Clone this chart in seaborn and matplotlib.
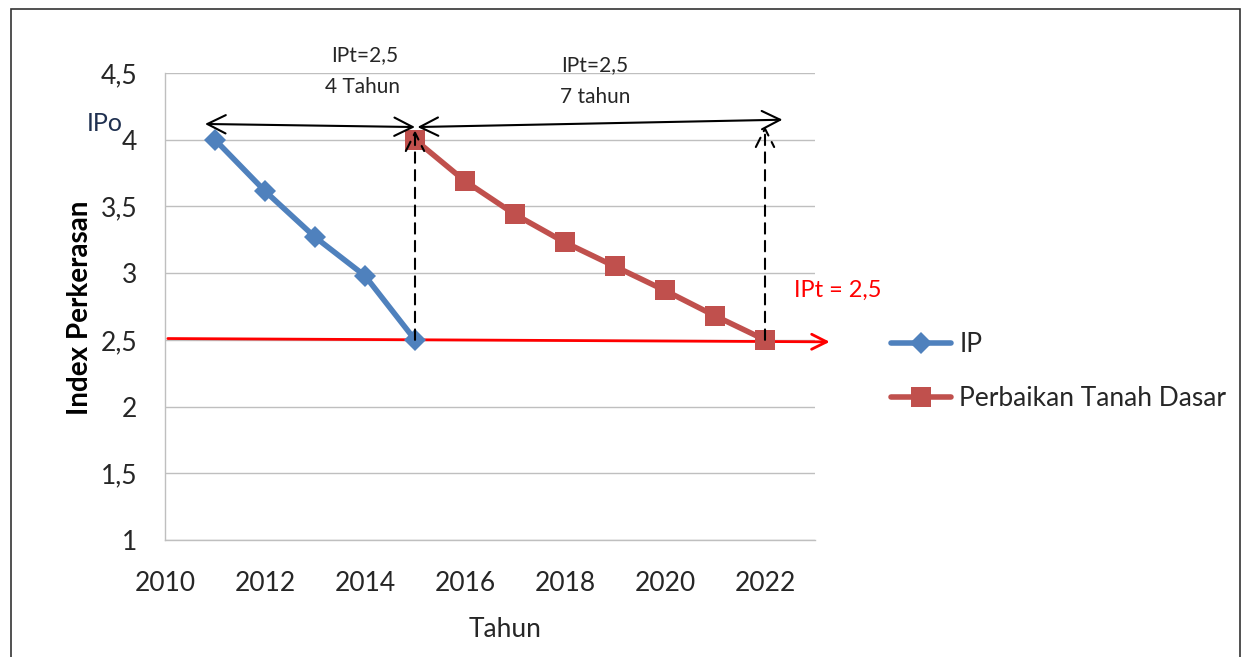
import matplotlib
matplotlib.use("Agg")
import matplotlib.pyplot as plt
import seaborn as sns
import pandas as pd
from matplotlib.patches import Rectangle
from matplotlib.lines import Line2D

# ---- data ----
ip_years = [2011, 2012, 2013, 2014, 2015]
ip_values = [4.0, 3.615, 3.27, 2.98, 2.5]
ptd_years = [2015, 2016, 2017, 2018, 2019, 2020, 2021, 2022]
ptd_values = [4.0, 3.69, 3.44, 3.23, 3.05, 2.87, 2.68, 2.5]
y_ticks = [1, 1.5, 2, 2.5, 3, 3.5, 4, 4.5]
x_ticks = [2010, 2012, 2014, 2016, 2018, 2020, 2022]
ipt = 2.5

sns.set_theme(style="white")
plt.rcParams['font.family'] = ['Lato', 'DejaVu Sans']

BLUE = '#4F81BD'
RED = '#C0504D'
TXT = '#262626'

fig = plt.figure(figsize=(12.48, 6.57), dpi=100)
ax = fig.add_axes([165/1248, 1-540/657, 650/1248, 467/657])

df_ip = pd.DataFrame({'Tahun': ip_years, 'IP': ip_values})
df_ptd = pd.DataFrame({'Tahun': ptd_years, 'IP': ptd_values})

ax.set_xlim(2010, 2023)
ax.set_ylim(1, 4.5)
ax.set_yticks(y_ticks)
ax.set_yticklabels([f"{v:g}".replace('.', ',') for v in y_ticks])
ax.set_xticks(x_ticks)
ax.set_xticklabels([str(v) for v in x_ticks])
ax.grid(axis='y', color='#BFBFBF', lw=1)
ax.grid(axis='x', visible=False)
ax.set_axisbelow(True)
for s in ['top', 'right']:
    ax.spines[s].set_visible(False)
for s in ['left', 'bottom']:
    ax.spines[s].set_color('#BFBFBF')
    ax.spines[s].set_linewidth(1)
ax.tick_params(axis='both', length=0, labelsize=19, colors=TXT)
ax.tick_params(axis='y', pad=20)
ax.tick_params(axis='x', pad=22)

# red threshold arrow
ax.annotate('', xy=(2023.35, 2.485), xytext=(2010, 2.51),
            arrowprops=dict(arrowstyle='->,head_length=0.9,head_width=0.45',
                            color='#FF0000', lw=2), annotation_clip=False, zorder=2)

sns.lineplot(data=df_ip, x='Tahun', y='IP', ax=ax, color=BLUE, lw=4,
             marker='D', markersize=11, markeredgewidth=0, label='IP', zorder=3)
sns.lineplot(data=df_ptd, x='Tahun', y='IP', ax=ax, color=RED, lw=4,
             marker='s', markersize=14, markeredgewidth=0,
             label='Perbaikan Tanah Dasar', zorder=3)

# black arrows
aprops = dict(arrowstyle='<->,head_length=1.1,head_width=0.55', color='black', lw=1.5,
              shrinkA=0, shrinkB=0)
ax.annotate('', xy=(2010.8, 4.118), xytext=(2015.0, 4.095), arrowprops=aprops,
            annotation_clip=False, zorder=4)
ax.annotate('', xy=(2015.05, 4.095), xytext=(2022.35, 4.15), arrowprops=aprops,
            annotation_clip=False, zorder=4)
dprops = dict(arrowstyle='->,head_length=1.1,head_width=0.55', color='black', lw=1.5,
              linestyle=(0, (5, 3.5)), shrinkA=0, shrinkB=0)
ax.annotate('', xy=(2015, 4.07), xytext=(2015, 2.5), arrowprops=dprops, zorder=4)
ax.annotate('', xy=(2022, 4.1), xytext=(2022, 2.5), arrowprops=dprops, zorder=4)

# texts
ax.text(2014.0, 4.635, 'IPt=2,5', ha='center', va='center', fontsize=15, color=TXT)
ax.text(2013.95, 4.395, '4 Tahun', ha='center', va='center', fontsize=15, color=TXT)
ax.text(2018.6, 4.56, 'IPt=2,5', ha='center', va='center', fontsize=15, color=TXT)
ax.text(2018.6, 4.32, '7 tahun', ha='center', va='center', fontsize=15, color=TXT)
ax.text(2023.46, 2.873, 'IPt = 2,5', ha='center', va='center', fontsize=17,
        color='#FF0000', clip_on=False)
ax.text(2008.8, 4.125, 'IPo', ha='center', va='center', fontsize=18,
        color='#1F3050', clip_on=False)

ax.set_ylabel('Index Perkerasan', fontsize=20, fontweight='bold', color='black')
ax.yaxis.set_label_coords(-72/650, 0.497)
ax.set_xlabel('Tahun', fontsize=19, color=TXT)
ax.xaxis.set_label_coords(0.523, -0.165)

handles = [Line2D([], [], color=BLUE, lw=4, marker='D', markersize=11, markeredgewidth=0),
           Line2D([], [], color=RED, lw=4, marker='s', markersize=14, markeredgewidth=0)]
ax.legend(handles, ['IP', 'Perbaikan Tanah Dasar'], loc='upper left',
          bbox_to_anchor=(867/1248, 1-308/657), bbox_transform=fig.transFigure,
          frameon=False, fontsize=19, handlelength=2.3, handletextpad=0.3,
          labelspacing=1.1, labelcolor=TXT)

fig.patches.append(Rectangle((11/1248, -0.02), (1240-11)/1248, 1.02-9/657,
                             transform=fig.transFigure, fill=False,
                             edgecolor='#333333', lw=1.2))

fig.savefig('out.png', dpi=100)
